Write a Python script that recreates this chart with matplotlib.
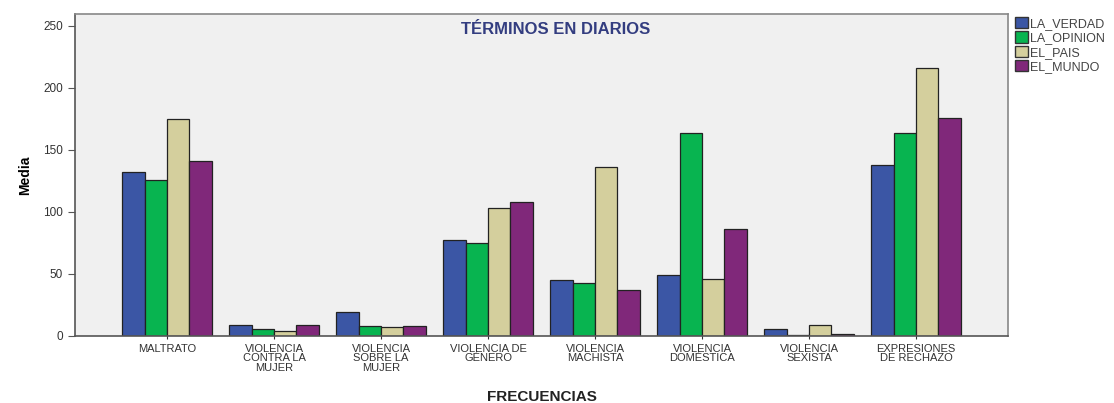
import numpy as np
import matplotlib.pyplot as plt
from matplotlib.patches import Patch

plt.rcParams['font.family'] = ['Liberation Sans', 'DejaVu Sans']

categories = ['MALTRATO', 'VIOLENCIA\nCONTRA LA\nMUJER', 'VIOLENCIA\nSOBRE LA\nMUJER',
              'VIOLENCIA DE\nGÉNERO', 'VIOLENCIA\nMACHISTA', 'VIOLENCIA\nDOMÉSTICA',
              'VIOLENCIA\nSEXISTA', 'EXPRESIONES\nDE RECHAZO']
series = ['LA_VERDAD', 'LA_OPINION', 'EL_PAIS', 'EL_MUNDO']
la_verdad = [132, 9, 19, 77, 45, 49, 6, 138]
la_opinion = [126, 6, 8, 75, 43, 164, 1, 164]
el_pais = [175, 4, 7, 103, 136, 46, 9, 216]
el_mundo = [141, 9, 8, 108, 37, 86, 2, 176]
colors = ['#3b56a5', '#08b450', '#d4cf9d', '#80287a']

fig = plt.figure(figsize=(11.14, 4.03), dpi=100)
ax = fig.add_axes([75 / 1114, 67 / 403, (1008 - 75) / 1114, (336 - 14) / 403])
ax.set_facecolor('#f0f0f0')

x = np.arange(len(categories))
w = 0.21
for i, (vals, c) in enumerate(zip([la_verdad, la_opinion, el_pais, el_mundo], colors)):
    ax.bar(x + (i - 1.5) * w, vals, w, color=c, edgecolor='#222222', linewidth=0.9, zorder=2)

ax.set_xlim(-0.86, 7.86)
ax.set_ylim(0, 259.5)
ax.set_yticks([0, 50, 100, 150, 200, 250])
ax.set_xticks(x)
ax.set_xticklabels(categories, fontsize=8, color='#333333', linespacing=0.95)
ax.tick_params(axis='y', labelsize=8.5, labelcolor='#333333', color='#555555', length=5)
ax.tick_params(axis='x', color='#333333', length=5, direction='inout', pad=3)
for s in ax.spines.values():
    s.set_color('#888888')
    s.set_linewidth(1.2)
ax.spines['left'].set_color('#555555')
ax.spines['bottom'].set_color('#555555')

ax.set_ylabel('Media', fontsize=10, fontweight='bold', labelpad=8)
ax.set_xlabel('FRECUENCIAS', fontsize=11, fontweight='bold', labelpad=12, color='#222222')
ax.text(0.515, 0.975, 'TÉRMINOS EN DIARIOS', transform=ax.transAxes, ha='center', va='top',
        fontsize=12, fontweight='bold', color='#333d80')

handles = [Patch(facecolor=c, edgecolor='#333333', label=s) for s, c in zip(series, colors)]
fig.legend(handles=handles, loc='upper left', bbox_to_anchor=(1010 / 1114, 1 - 12 / 403),
           frameon=False, fontsize=9, handlelength=1.0, handleheight=1.0,
           handletextpad=0.2, labelspacing=0.12, borderaxespad=0, labelcolor='#444444')

fig.savefig('out.png', dpi=100)
